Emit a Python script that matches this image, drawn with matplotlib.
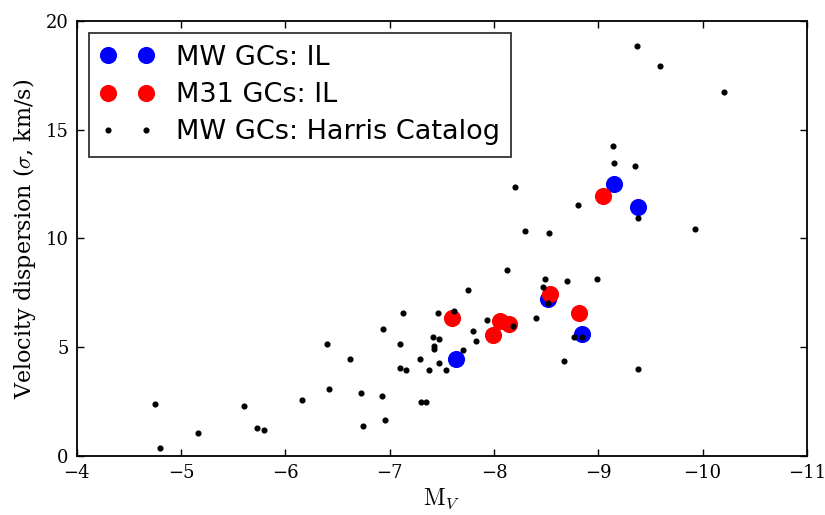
import matplotlib
matplotlib.use("Agg")
import matplotlib.pyplot as plt

plt.rcParams["mathtext.fontset"] = "cm"
plt.rcParams["font.family"] = ["DejaVu Serif"]
plt.rcParams["axes.unicode_minus"] = True

# Milky Way globular clusters, integrated-light dispersions
mw_il_mv = [-7.64, -8.52, -8.84, -9.15, -9.38]
mw_il_sigma = [4.47, 7.2, 5.62, 12.49, 11.46]

# M31 globular clusters, integrated-light dispersions
m31_il_mv = [-7.60, -7.99, -8.06, -8.14, -8.54, -8.82, -9.05]
m31_il_sigma = [6.36, 5.58, 6.18, 6.07, 7.46, 6.56, 11.95]

# Harris catalog Milky Way globular clusters
harris_mv = [-4.75, -4.80, -5.16, -5.60, -5.73, -5.80, -6.16, -6.40, -6.42,
             -6.62, -6.73, -6.74, -6.93, -6.94, -6.96, -7.10, -7.10, -7.13,
             -7.16, -7.29, -7.30, -7.35, -7.38, -7.42, -7.43, -7.43, -7.46,
             -7.47, -7.47, -7.54, -7.62, -7.70, -7.75, -7.80, -7.83, -7.93,
             -8.13, -8.18, -8.20, -8.30, -8.40, -8.47, -8.49, -8.52, -8.53,
             -8.67, -8.70, -8.77, -8.81, -8.84, -8.99, -9.14, -9.15, -9.35,
             -9.37, -9.38, -9.38, -9.59, -9.93, -10.21]
harris_sigma = [2.36, 0.38, 1.07, 2.27, 1.27, 1.18, 2.57, 5.16, 3.07,
                4.46, 2.87, 1.36, 2.76, 5.85, 1.66, 5.16, 4.06, 6.56,
                3.95, 4.46, 2.47, 2.47, 3.95, 5.47, 5.06, 4.93, 6.56,
                5.36, 4.26, 3.95, 6.67, 4.86, 7.65, 5.76, 5.26, 6.25,
                8.55, 5.96, 12.35, 10.36, 6.36, 7.76, 8.15, 7.05, 10.27,
                4.37, 8.06, 5.47, 11.56, 5.47, 8.15, 14.25, 13.46, 13.35,
                18.85, 3.97, 10.96, 17.95, 10.45, 16.75]

fig = plt.figure(figsize=(8.25, 5.15), dpi=100)
ax = fig.add_axes([0.093, 0.115, 0.885, 0.844])

ax.plot(mw_il_mv, mw_il_sigma, "o", color="blue", mec="blue",
        markersize=11.3, label="MW GCs: IL", zorder=2)
ax.plot(m31_il_mv, m31_il_sigma, "o", color="red", mec="red",
        markersize=11.3, label="M31 GCs: IL", zorder=2)
ax.plot(harris_mv, harris_sigma, "o", color="black", mec="black",
        markersize=3.4, label="MW GCs: Harris Catalog", zorder=3)

ax.set_xlim(-4, -11)
ax.set_ylim(0, 20)
ax.set_xticks([-4, -5, -6, -7, -8, -9, -10, -11])
ax.set_yticks([0, 5, 10, 15, 20])

ax.set_xlabel(r"$\mathrm{M}_V$", fontsize=17, labelpad=3)
ax.set_ylabel(r"Velocity dispersion ($\sigma$, km/s)", fontsize=16,
              labelpad=5)

for s in ax.spines.values():
    s.set_linewidth(1.3)
ax.tick_params(direction="in", top=True, right=True, length=5, width=1.0,
               labelsize=13, pad=6)

leg = ax.legend(loc="upper left", numpoints=2, fancybox=False,
                prop={"family": "DejaVu Sans", "size": 19.5},
                borderaxespad=0.45, handletextpad=0.8, labelspacing=0.42,
                borderpad=0.42)
leg.get_frame().set_edgecolor("black")
leg.get_frame().set_linewidth(1.3)

fig.savefig("out.png", dpi=100, facecolor="white")
